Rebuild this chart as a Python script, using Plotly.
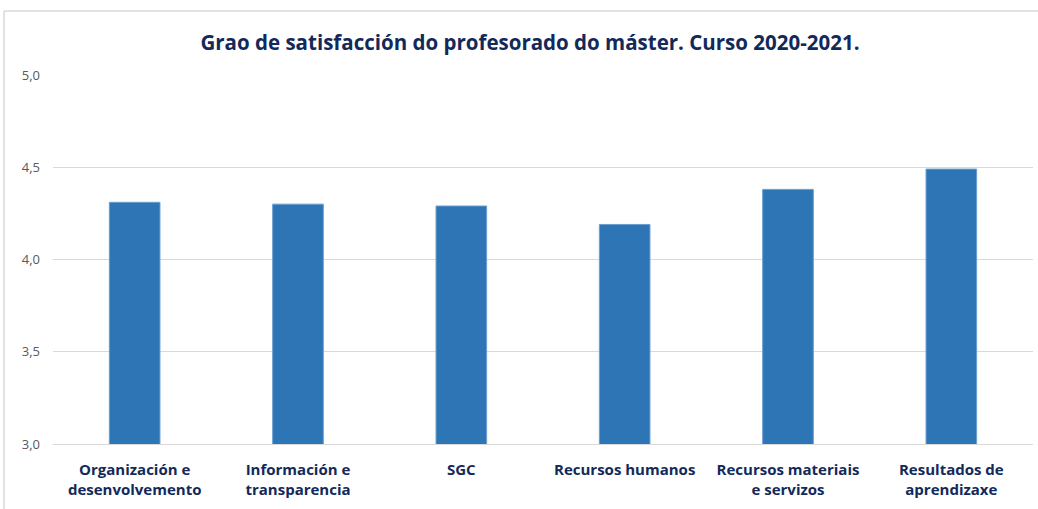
import plotly.graph_objects as go

categories = [
    "Organización e<br>desenvolvemento",
    "Información e<br>transparencia",
    "SGC",
    "Recursos humanos",
    "Recursos materiais<br>e servizos",
    "Resultados de<br>aprendizaxe",
]
values = [4.31, 4.30, 4.29, 4.19, 4.38, 4.49]
y_ticks = [3.0, 3.5, 4.0, 4.5, 5.0]

title_text = "Grao de satisfacción do profesorado do máster. Curso 2020-2021."
navy = "#12295A"

fig = go.Figure(
    go.Bar(
        x=categories,
        y=values,
        marker=dict(color="#2E75B6", line=dict(color="#6A9FD0", width=1)),
        hoverinfo="x+y",
    )
)

fig.update_layout(
    width=1038,
    height=509,
    margin=dict(l=53, r=5, t=75, b=65, autoexpand=False),
    paper_bgcolor="white",
    plot_bgcolor="white",
    separators=",.",
    bargap=0.69,
    showlegend=False,
    title=dict(
        text="<b>" + title_text + "</b>",
        x=530 / 1038,
        xanchor="center",
        y=1 - 43 / 509,
        yanchor="middle",
        yref="container",
        font=dict(family="Open Sans", size=20.5, color=navy),
    ),
    font=dict(family="Open Sans"),
)

fig.update_yaxes(
    range=[3.0, 5.0],
    tickvals=y_ticks,
    tickformat=".1f",
    showgrid=True,
    gridcolor="#D9D9D9",
    gridwidth=1,
    zeroline=False,
    showline=False,
    ticks="",
    automargin=False,
    ticklabelstandoff=12,
    tickfont=dict(family="Open Sans", size=13, color="#595959"),
)

fig.update_xaxes(
    showline=True,
    linecolor="#D9D9D9",
    linewidth=1,
    ticks="",
    automargin=False,
    tickfont=dict(family="Open Sans", size=15, color=navy),
    tickprefix="<b>",
    ticksuffix="</b>",
    ticklabelstandoff=12,
)

# outer chart border (top and left edges visible in the crop)
bx = (4 - 53) / 980
by = (444 - 11) / 369
fig.add_shape(type="line", xref="paper", yref="paper",
              x0=bx, x1=1.01, y0=by, y1=by,
              line=dict(color="#D9D9D9", width=1.5))
fig.add_shape(type="line", xref="paper", yref="paper",
              x0=bx, x1=bx, y0=by, y1=-0.2,
              line=dict(color="#D9D9D9", width=1.5))

fig.write_html(
    "out.html",
    config={"displayModeBar": False},
    post_script="document.body.style.margin='0';document.body.style.overflow='hidden';",
)
